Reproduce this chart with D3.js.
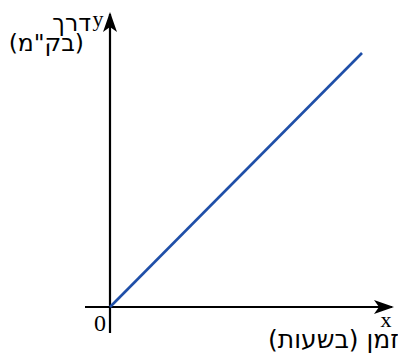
<!DOCTYPE html>
<html><head><meta charset="utf-8">
<script src="https://cdn.jsdelivr.net/npm/d3@7/dist/d3.min.js"></script>
<style>html,body{margin:0;padding:0;background:#fff;}svg{display:block;}</style>
</head><body>
<svg id="c" width="398" height="354"></svg>
<script>
// Data
const time = [0, 10];
const distance = [0, 10];
const xLabel = "זמן (בשעות)";
const yLabelWord = "דרך";
const yLabelUnit = "(בק\"מ)";
const xAxisName = "x";
const yAxisName = "y";
const originLabel = "0";

const svg = d3.select("#c");
const x = d3.scaleLinear().domain([0, 10]).range([110, 362]);
const y = d3.scaleLinear().domain([0, 10]).range([307, 53]);

const defs = svg.append("defs");
defs.append("marker").attr("id","arr").attr("viewBox","0 0 20 14").attr("refX",18).attr("refY",7)
  .attr("markerWidth",20).attr("markerHeight",14).attr("markerUnits","userSpaceOnUse").attr("orient","auto")
  .append("path").attr("d","M0,0 L20,7 L0,14 L5,7 Z").attr("fill","#000");

// x axis
svg.append("line").attr("x1", x(0) - 25).attr("x2", x(0) + 282).attr("y1", y(0)).attr("y2", y(0))
  .attr("stroke","#000").attr("stroke-width",2.2).attr("marker-end","url(#arr)");
// y axis
svg.append("line").attr("x1", x(0)).attr("x2", x(0)).attr("y1", y(0) + 26).attr("y2", y(0) - 293)
  .attr("stroke","#000").attr("stroke-width",2.2).attr("marker-end","url(#arr)");

// data line
svg.append("path").datum(time.map((t,i)=>[t, distance[i]]))
  .attr("d", d3.line().x(d=>x(d[0])).y(d=>y(d[1])))
  .attr("fill","none").attr("stroke","#1f4fa8").attr("stroke-width",2.6);

const serif = "'Liberation Serif','DejaVu Serif',serif";
const sans = "'DejaVu Sans',sans-serif";

svg.append("text").attr("x", x(0) - 4).attr("y", y(0) + 24).attr("text-anchor","end")
  .attr("font-family", serif).attr("font-size", 24).text(originLabel);
svg.append("text").attr("x", 386).attr("y", 327).attr("text-anchor","middle")
  .attr("font-family", serif).attr("font-size", 22).text(xAxisName);
svg.append("text").attr("x", 98).attr("y", 26).attr("text-anchor","middle")
  .attr("font-family", serif).attr("font-size", 22).text(yAxisName);

function heb(xp, yp, s, size){
  return svg.append("text").attr("x", xp).attr("y", yp).attr("direction","rtl")
    .attr("text-anchor","start").attr("font-family", sans).attr("font-size", size).text(s);
}
heb(91, 31, yLabelWord, 23.5);
heb(84, 51, yLabelUnit, 23.5);
heb(399, 348, xLabel, 25);
</script>
</body></html>
